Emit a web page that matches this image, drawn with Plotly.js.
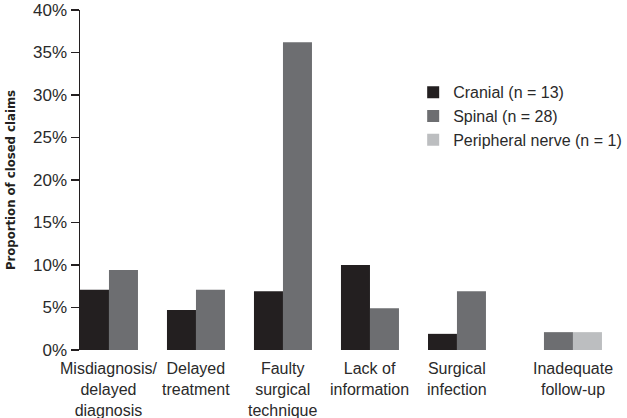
<!DOCTYPE html>
<html>
<head>
<meta charset="utf-8">
<script src="https://cdn.plot.ly/plotly-3.0.1.min.js"></script>
<style>html,body{margin:0;padding:0;background:#fff;}#chart{width:627px;height:418px;}</style>
</head>
<body>
<div id="chart"></div>
<script>
var categories = ["Misdiagnosis/ delayed diagnosis", "Delayed treatment", "Faulty surgical technique", "Lack of information", "Surgical infection", "Inadequate follow-up"];
var categoryLabels = ["Misdiagnosis/<br>delayed<br>diagnosis", "Delayed<br>treatment", "Faulty<br>surgical<br>technique", "Lack of<br>information", "Surgical<br>infection", "Inadequate<br>follow-up"];
var cranial = [7.1, 4.7, 6.9, 10.0, 1.9, null];
var spinal = [9.4, 7.1, 36.2, 4.9, 6.9, 2.1];
var peripheral = [null, null, null, null, null, 2.1];
var seriesNames = ["Cranial (n = 13)", "Spinal (n = 28)", "Peripheral nerve (n = 1)"];
var yTicks = [0, 5, 10, 15, 20, 25, 30, 35, 40];

var font = "'Liberation Sans', Arial, sans-serif";
var W = 1/3;
function bar(name, y, color, off) {
  return {type: "bar", name: name, x: categories, y: y, width: W, offset: off,
          marker: {color: color, line: {width: 0}}, hoverinfo: "skip"};
}
var data = [
  bar(seriesNames[0], cranial, "#231f20", -W),
  bar(seriesNames[1], spinal, "#6d6e71", 0),
  bar(seriesNames[2], peripheral, "#bcbec0", W)
];

var annotations = categories.map(function (c, i) {
  var hasCranial = cranial[i] !== null;
  return {xref: "x", yref: "paper", x: c, y: 0, yanchor: "top", xanchor: "center",
          xshift: hasCranial ? 0 : 29, yshift: -8, showarrow: false,
          text: categoryLabels[i], align: "center",
          font: {family: font, size: 16, color: "#2a2a2a"}};
});

var layout = {
  width: 627, height: 418,
  margin: {l: 80, r: 7, t: 10, b: 68, autoexpand: false},
  paper_bgcolor: "#fff", plot_bgcolor: "#fff",
  barmode: "overlay",
  showlegend: true,
  legend: {x: 0.617, xanchor: "left", y: 0.808, yanchor: "top",
           font: {family: font, size: 16, color: "#2a2a2a"},
           bgcolor: "rgba(0,0,0,0)", tracegroupgap: 0},
  xaxis: {type: "category", range: [-0.333, 5.874], showticklabels: false,
          showgrid: false, zeroline: false, showline: false, ticks: ""},
  yaxis: {range: [0, 40], tickvals: yTicks, ticktext: yTicks.map(function (v) { return v + "%"; }),
          showgrid: false, zeroline: false, showline: true, linecolor: "#231f20", linewidth: 1.5,
          ticks: "outside", ticklen: 8, tickwidth: 1.5, tickcolor: "#231f20",
          tickfont: {family: font, size: 17, color: "#2a2a2a"},
          title: {text: "Proportion of closed claims", standoff: 14,
                  font: {family: "'Liberation Sans Narrow', 'DejaVu Sans Condensed', sans-serif", size: 13, color: "#231f20", weight: "bold"}}},
  annotations: annotations
};
Plotly.newPlot("chart", data, layout, {displayModeBar: false, staticPlot: true});
</script>
</body>
</html>
